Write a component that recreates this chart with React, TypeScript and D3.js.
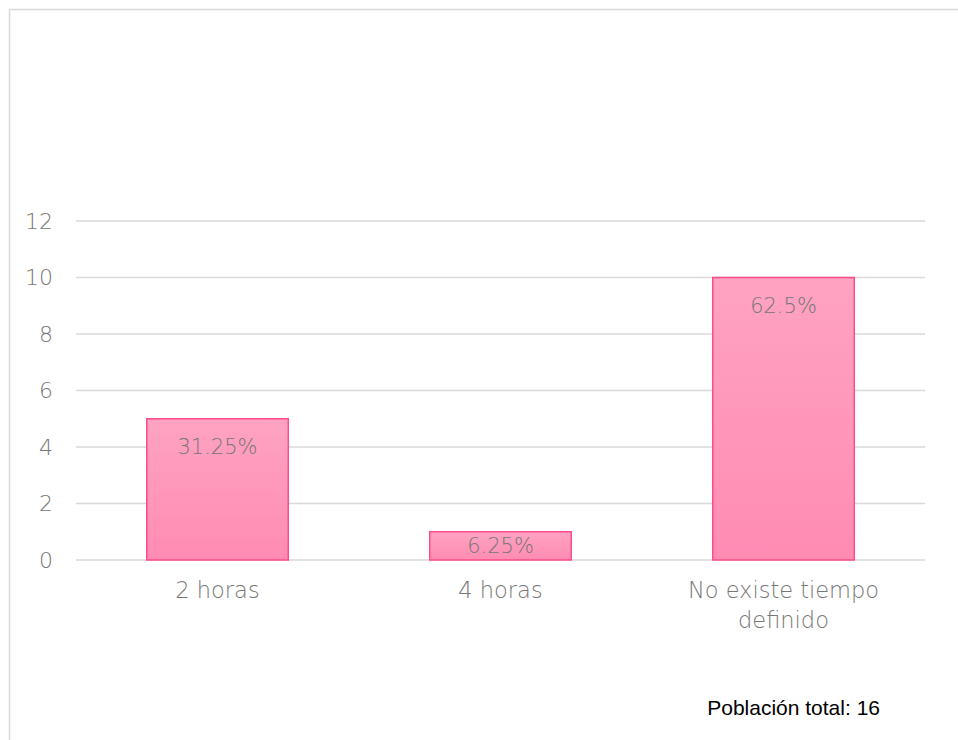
import React from "react";
import * as d3 from "d3";

const categories = ["2 horas", "4 horas", "No existe tiempo definido"];
const categoryLines = [["2 horas"], ["4 horas"], ["No existe tiempo", "definido"]];
const values = [5, 1, 10];
const labels = ["31.25%", "6.25%", "62.5%"];
const yTicks = [0, 2, 4, 6, 8, 10, 12];
const note = "Población total: 16";

export default function App() {
  const W = 958, H = 740;
  const left = 76, right = 925, top = 221, bottom = 560;
  const x = d3.scaleBand().domain(categories).range([left, right]).paddingInner(0.5).paddingOuter(0.25);
  const y = d3.scaleLinear().domain([0, 12]).range([bottom, top]);
  const font = "'DejaVu Sans', sans-serif";
  return (
    <svg width={W} height={H} style={{ display: "block", position: "absolute", left: 0, top: 0 }} viewBox={`0 0 ${W} ${H}`}>
      <defs>
        <linearGradient id="barGrad" x1="0" y1="0" x2="0" y2="1">
          <stop offset="0%" stopColor="#ffa3c2" />
          <stop offset="100%" stopColor="#ff8bb3" />
        </linearGradient>
      </defs>
      <rect x={0} y={0} width={W} height={H} fill="white" />
      <line x1={9.5} y1={9.5} x2={W} y2={9.5} stroke="#d9d9d9" strokeWidth={1.5} />
      <line x1={9.5} y1={9.5} x2={9.5} y2={H} stroke="#d9d9d9" strokeWidth={1.5} />
      {yTicks.map((t) => (
        <g key={t}>
          <line x1={left} x2={right} y1={y(t)} y2={y(t)} stroke="#d9d9d9" strokeWidth={1.3} />
          <text x={53} y={y(t)} dy="0.35em" textAnchor="end" fontFamily={font} fontWeight={300} fontSize={22} fill="#767676">{t}</text>
        </g>
      ))}
      {categories.map((c, i) => {
        const bx = x(c)!;
        const bw = x.bandwidth();
        const ty = y(values[i]);
        const ly = Math.min(ty + 28, (ty + y(0)) / 2);
        return (
          <g key={c}>
            <rect x={bx} y={ty} width={bw} height={y(0) - ty} fill="url(#barGrad)" stroke="#ff4b8e" strokeWidth={1.5} />
            <text x={bx + bw / 2} y={ly} dy="0.35em" textAnchor="middle" fontFamily={font} fontWeight={300} fontSize={21} fill="#767676">{labels[i]}</text>
            {categoryLines[i].map((ln, j) => (
              <text key={j} x={bx + bw / 2} y={y(0) + 30 + j * 30} dy="0.35em" textAnchor="middle" fontFamily={font} fontWeight={300} fontSize={22.5} fill="#767676">{ln}</text>
            ))}
          </g>
        );
      })}
      <text x={880} y={708} dy="0.35em" textAnchor="end" fontFamily="'Liberation Sans', Arial, sans-serif" fontSize={21} fill="#000">{note}</text>
    </svg>
  );
}
